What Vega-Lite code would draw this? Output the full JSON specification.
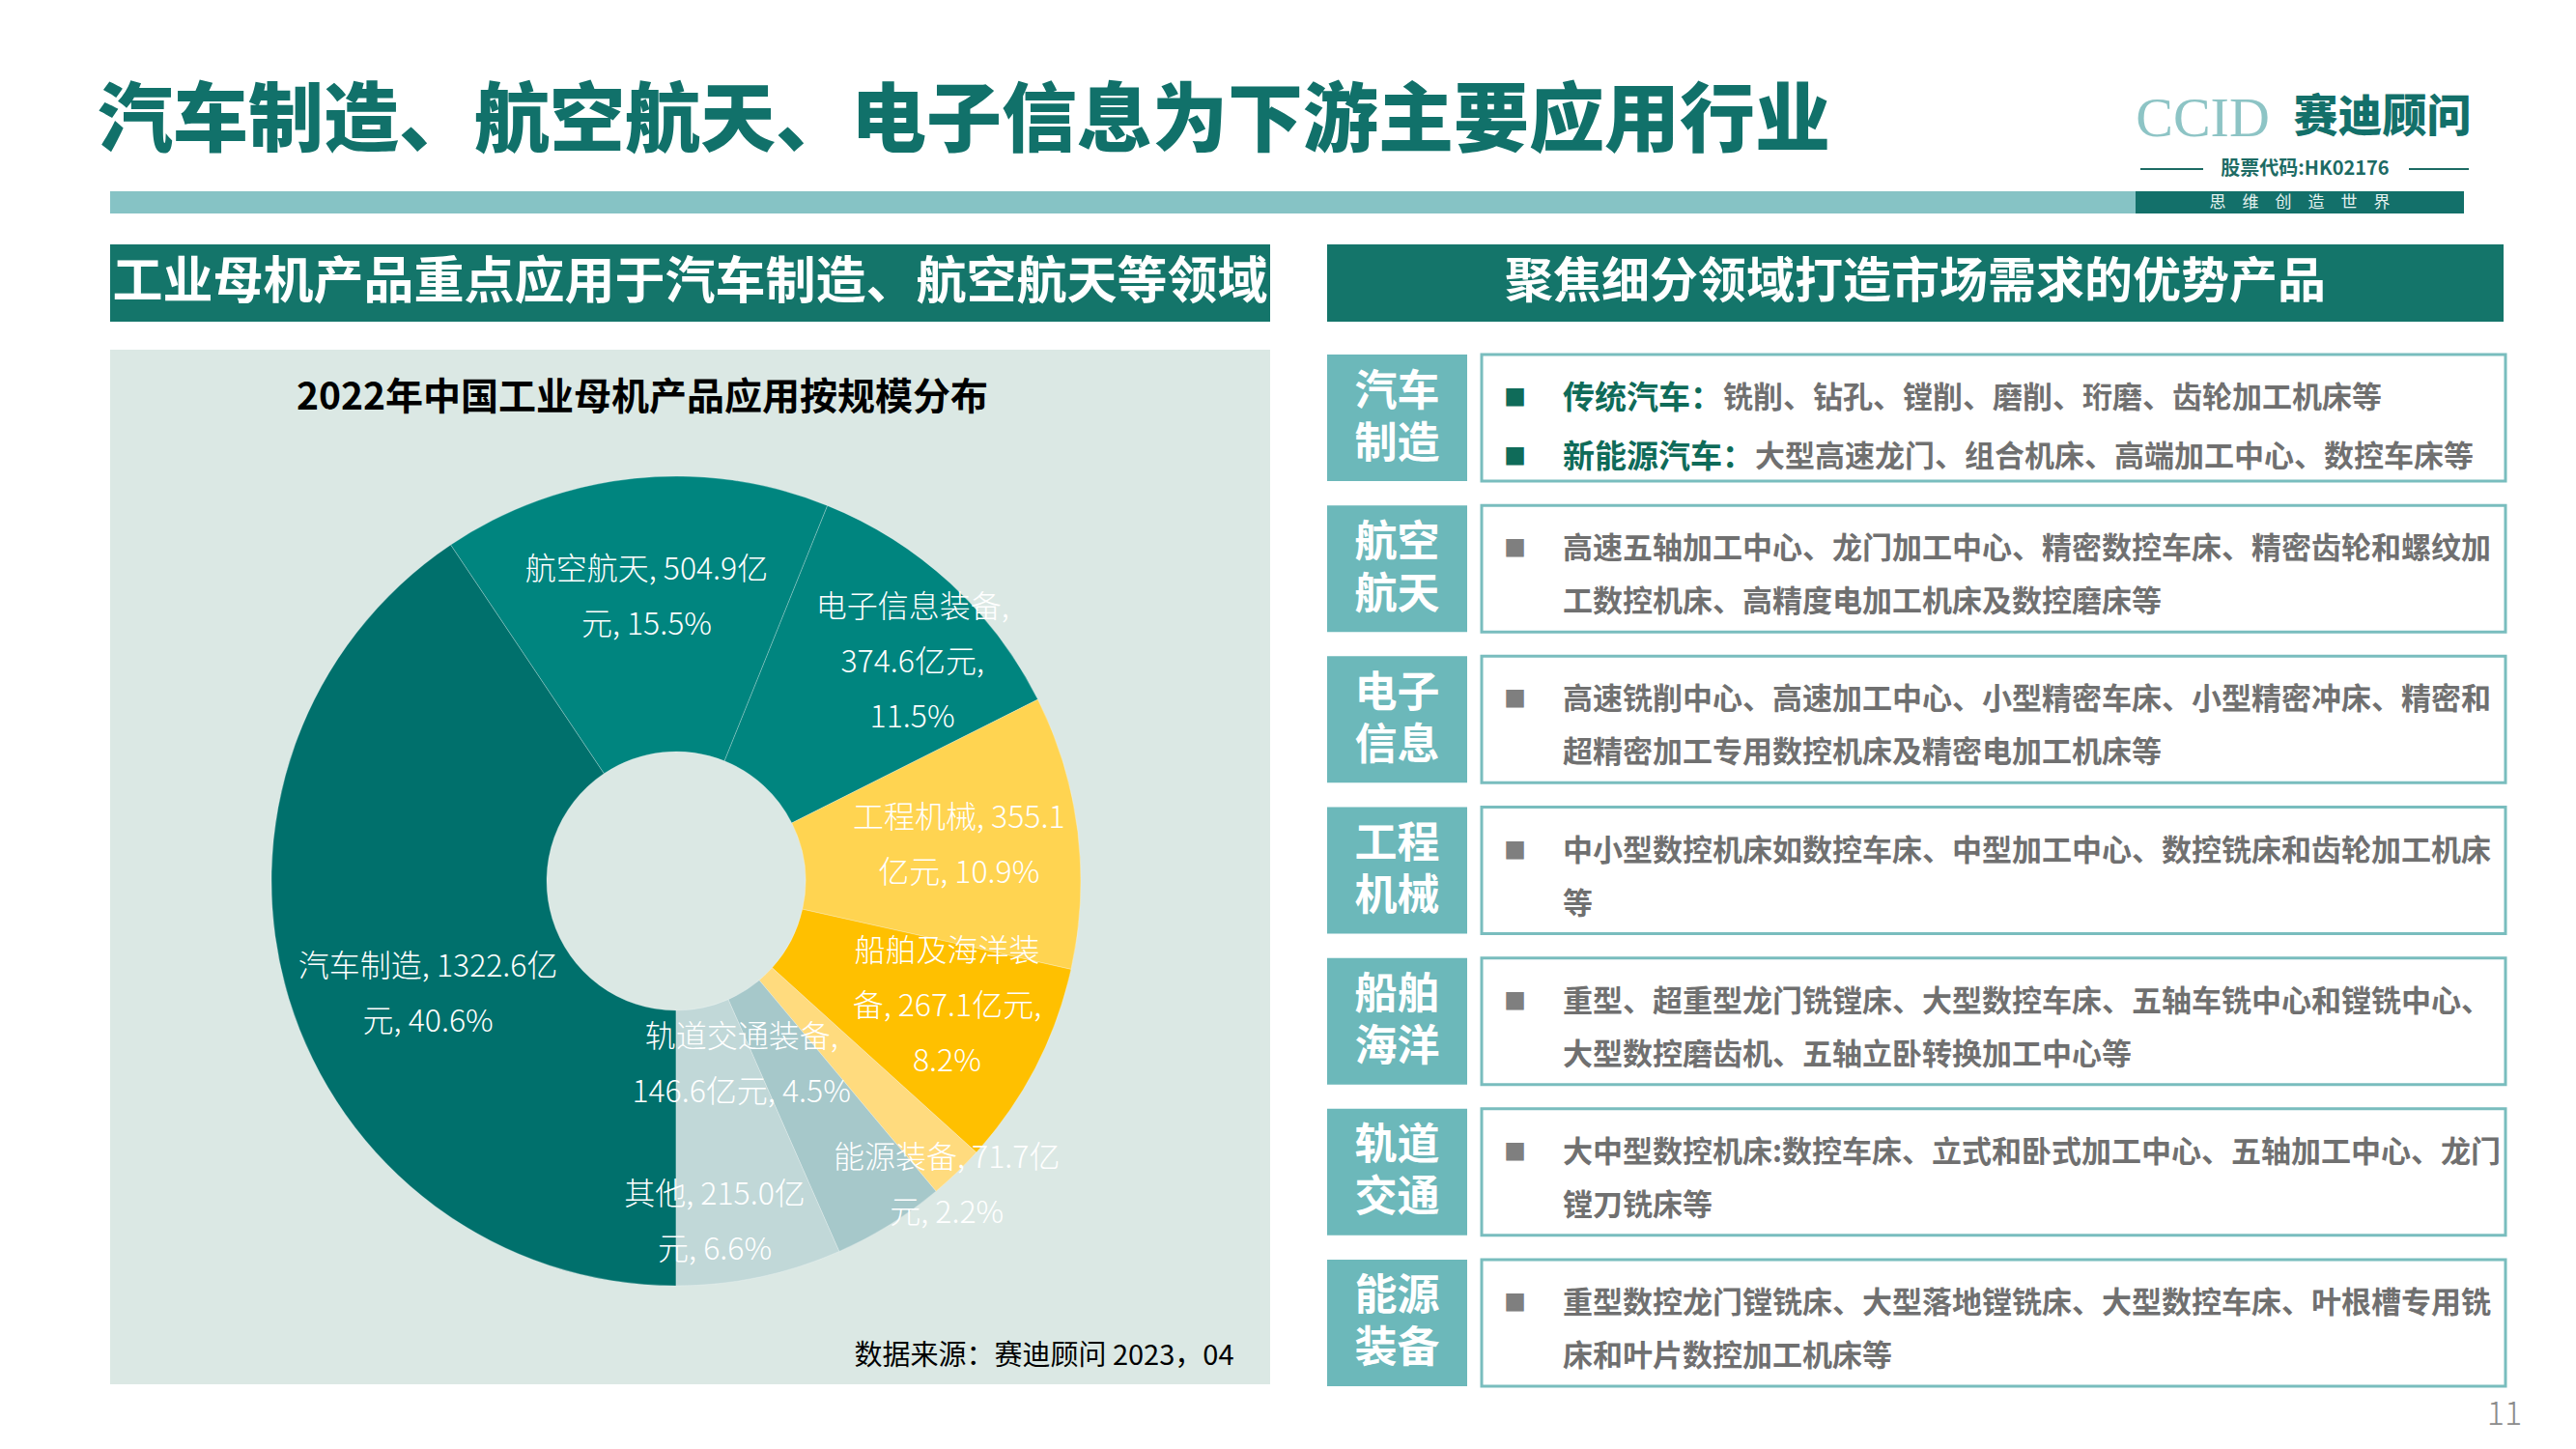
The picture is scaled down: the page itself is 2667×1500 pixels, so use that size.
{
  "$schema": "https://vega.github.io/schema/vega-lite/v6.json",
  "padding": {"left": 96, "top": 0, "right": 55, "bottom": 12},
  "background": "#ffffff",
  "spacing": 0,
  "config": {
    "font": "Noto Sans CJK SC",
    "view": {"stroke": null},
    "concat": {"spacing": 0}
  },
  "datasets": {
    "apps": [
      {"cat": "汽车制造", "value": 1322.6, "label": "汽车制造, 1322.6亿\n元, 40.6%"},
      {"cat": "航空航天", "value": 504.9, "label": "航空航天, 504.9亿\n元, 15.5%"},
      {"cat": "电子信息装备", "value": 374.6, "label": "电子信息装备,\n374.6亿元,\n11.5%"},
      {"cat": "工程机械", "value": 355.1, "label": "工程机械, 355.1\n亿元, 10.9%"},
      {"cat": "船舶及海洋装备", "value": 267.1, "label": "船舶及海洋装\n备, 267.1亿元,\n8.2%"},
      {"cat": "能源装备", "value": 71.7, "label": "能源装备, 71.7亿\n元, 2.2%"},
      {"cat": "轨道交通装备", "value": 146.6, "label": "轨道交通装备,\n146.6亿元, 4.5%"},
      {"cat": "其他", "value": 215.0, "label": "其他, 215.0亿\n元, 6.6%"}
    ],
    "rows": [
      {"cat": "汽车制造", "label": "汽车\n制造", "prefix": "传统汽车：\n新能源汽车：", "rest1": "铣削、钻孔、镗削、磨削、珩磨、齿轮加工机床等", "rest2": "大型高速龙门、组合机床、高端加工中心、数控车床等", "text": ""},
      {"cat": "航空航天", "label": "航空\n航天", "prefix": "", "rest1": "", "rest2": "", "text": "高速五轴加工中心、龙门加工中心、精密数控车床、精密齿轮和螺纹加\n工数控机床、高精度电加工机床及数控磨床等"},
      {"cat": "电子信息", "label": "电子\n信息", "prefix": "", "rest1": "", "rest2": "", "text": "高速铣削中心、高速加工中心、小型精密车床、小型精密冲床、精密和\n超精密加工专用数控机床及精密电加工机床等"},
      {"cat": "工程机械", "label": "工程\n机械", "prefix": "", "rest1": "", "rest2": "", "text": "中小型数控机床如数控车床、中型加工中心、数控铣床和齿轮加工机床\n等"},
      {"cat": "船舶海洋", "label": "船舶\n海洋", "prefix": "", "rest1": "", "rest2": "", "text": "重型、超重型龙门铣镗床、大型数控车床、五轴车铣中心和镗铣中心、\n大型数控磨齿机、五轴立卧转换加工中心等"},
      {"cat": "轨道交通", "label": "轨道\n交通", "prefix": "", "rest1": "", "rest2": "", "text": "大中型数控机床:数控车床、立式和卧式加工中心、五轴加工中心、龙门\n镗刀铣床等"},
      {"cat": "能源装备", "label": "能源\n装备", "prefix": "", "rest1": "", "rest2": "", "text": "重型数控龙门镗铣床、大型落地镗铣床、大型数控车床、叶根槽专用铣\n床和叶片数控加工机床等"}
    ]
  },
  "vconcat": [
    {
      "spacing": 0,
      "hconcat": [
        {"width": 1804, "height": 197, "data": {"values": [{"t": "汽车制造、航空航天、电子信息为下游主要应用行业"}]},
         "mark": {"type": "text", "fontSize": 78, "fontWeight": 900, "fill": "#11716a", "baseline": "middle", "align": "center", "dy": 29.5},
         "encoding": {"text": {"field": "t"}}},
        {"width": 311, "height": 197, "data": {"values": []}, "mark": "text"},
        {
          "spacing": 0,
          "vconcat": [
            {"width": 340, "height": 92, "data": {"values": []}, "mark": "text"},
            {
              "spacing": 0,
              "hconcat": [
                {"width": 129, "height": 60, "data": {"values": [{"t": "CCID"}]},
                 "mark": {"type": "text", "font": "Liberation Serif", "fontSize": 58, "fill": "#8dc4c5", "baseline": "middle", "align": "center", "dy": 2},
                 "encoding": {"text": {"field": "t"}}},
                {"width": 22, "height": 60, "data": {"values": []}, "mark": "text"},
                {"width": 189, "height": 60, "data": {"values": [{"t": "赛迪顾问"}]},
                 "mark": {"type": "text", "fontSize": 46, "fontWeight": 900, "fill": "#13706a", "baseline": "middle", "align": "center"},
                 "encoding": {"text": {"field": "t"}}}
              ]
            },
            {
              "spacing": 0,
              "hconcat": [
                {"spacing": 0, "vconcat": [
                  {"width": 65, "height": 21, "data": {"values": []}, "mark": "text"},
                  {"width": 65, "height": 2, "view": {"fill": "#1d6b64", "stroke": null}, "data": {"values": []}, "mark": "text"}
                ]},
                {"width": 17, "height": 45, "data": {"values": []}, "mark": "text"},
                {"width": 177, "height": 45, "data": {"values": [{"t": "股票代码:HK02176"}]},
                 "mark": {"type": "text", "fontSize": 20, "fontWeight": "bold", "fill": "#1d6b64", "baseline": "middle", "align": "center", "dy": -0.5},
                 "encoding": {"text": {"field": "t"}}},
                {"width": 19, "height": 45, "data": {"values": []}, "mark": "text"},
                {"spacing": 0, "vconcat": [
                  {"width": 62, "height": 21, "data": {"values": []}, "mark": "text"},
                  {"width": 62, "height": 2, "view": {"fill": "#1d6b64", "stroke": null}, "data": {"values": []}, "mark": "text"}
                ]}
              ]
            }
          ]
        }
      ]
    },
    {
      "spacing": 0,
      "hconcat": [
        {"width": 18, "height": 23, "data": {"values": []}, "mark": "text"},
        {"width": 2097, "height": 23, "view": {"fill": "#86c3c5", "stroke": null}, "data": {"values": []}, "mark": "text"},
        {"width": 340, "height": 23, "view": {"fill": "#13706a", "stroke": null}, "data": {"values": [{"t": "思　维　创　造　世　界"}]},
         "mark": {"type": "text", "fontSize": 17, "fill": "#e6f2f0", "baseline": "middle", "align": "center"},
         "encoding": {"text": {"field": "t"}}}
      ]
    },
    {"width": 100, "height": 32, "data": {"values": []}, "mark": "text"},
    {
      "spacing": 0,
      "hconcat": [
        {"width": 18, "height": 100, "data": {"values": []}, "mark": "text"},
        {
          "spacing": 0,
          "vconcat": [
            {"width": 1201, "height": 80, "view": {"fill": "#14756a", "stroke": null},
             "data": {"values": [{"t": "工业母机产品重点应用于汽车制造、航空航天等领域"}]},
             "mark": {"type": "text", "fontSize": 52, "fontWeight": "bold", "fill": "#ffffff", "baseline": "middle", "align": "center"},
             "encoding": {"text": {"field": "t"}}},
            {"width": 1201, "height": 29, "data": {"values": []}, "mark": "text"},
            {"width": 1201, "height": 100, "view": {"fill": "#dbe8e4", "stroke": null},
             "data": {"values": [{"t": "2022年中国工业母机产品应用按规模分布"}]},
             "mark": {"type": "text", "fontSize": 39, "fontWeight": "bold", "fill": "#000000", "baseline": "middle", "align": "center", "dx": -49.5},
             "encoding": {"text": {"field": "t"}}},
            {
              "spacing": 0,
              "hconcat": [
                {
                  "width": 1172, "height": 900,
                  "view": {"fill": "#dbe8e4", "stroke": null},
                  "data": {"name": "apps"},
                  "transform": [{"window": [{"op": "row_number", "as": "i"}]}],
                  "encoding": {
                    "theta": {"field": "value", "type": "quantitative", "stack": true, "scale": {"range": [3.14159265, 9.42477796]}},
                    "order": {"field": "i", "type": "quantitative"}
                  },
                  "layer": [
                    {"mark": {"type": "arc", "outerRadius": 419, "innerRadius": 134, "stroke": "#ffffff", "strokeOpacity": 0.25, "strokeWidth": 1},
                     "encoding": {"color": {"field": "cat", "type": "nominal", "legend": null,
                       "scale": {"domain": ["汽车制造", "航空航天", "电子信息装备", "工程机械", "船舶及海洋装备", "能源装备", "轨道交通装备", "其他"],
                                 "range": ["#00706c", "#00857f", "#00857f", "#ffd451", "#ffc000", "#ffdb7e", "#a6c8ca", "#c1d8d8"]}}}},
                    {"mark": {"type": "text", "radius": 295, "dy": -28.5, "fontSize": 32, "fontWeight": 300, "lineHeight": 57, "lineBreak": "\n", "fill": "#ffffff", "align": "center", "baseline": "middle"},
                     "encoding": {"text": {"condition": {"test": "datum.cat === '航空航天' || datum.cat === '工程机械'", "field": "label", "type": "nominal"}, "value": ""}}},
                    {"mark": {"type": "text", "radius": 333, "dx": 19, "dy": -38, "fontSize": 32, "fontWeight": 300, "lineHeight": 57, "lineBreak": "\n", "fill": "#ffffff", "align": "center", "baseline": "middle"},
                     "encoding": {"text": {"condition": {"test": "datum.cat === '电子信息装备'", "field": "label", "type": "nominal"}, "value": ""}}},
                    {"mark": {"type": "text", "radius": 309, "dx": 6, "dy": -69, "fontSize": 32, "fontWeight": 300, "lineHeight": 57, "lineBreak": "\n", "fill": "#ffffff", "align": "center", "baseline": "middle"},
                     "encoding": {"text": {"condition": {"test": "datum.cat === '船舶及海洋装备'", "field": "label", "type": "nominal"}, "value": ""}}},
                    {"mark": {"type": "text", "radius": 281, "dx": 12, "dy": 7.5, "fontSize": 32, "fontWeight": 300, "lineHeight": 57, "lineBreak": "\n", "fill": "#ffffff", "align": "center", "baseline": "middle"},
                     "encoding": {"text": {"condition": {"test": "datum.cat === '汽车制造'", "field": "label", "type": "nominal"}, "value": ""}}},
                    {"mark": {"type": "text", "radius": 380, "dx": 16.6, "dy": 12.9, "fontSize": 32, "fontWeight": 300, "lineHeight": 57, "lineBreak": "\n", "fill": "#ffffff", "align": "center", "baseline": "middle"},
                     "encoding": {"text": {"condition": {"test": "datum.cat === '能源装备'", "field": "label", "type": "nominal"}, "value": ""}}},
                    {"mark": {"type": "text", "radius": 202, "dx": -39, "dy": -9.5, "fontSize": 32, "fontWeight": 300, "lineHeight": 57, "lineBreak": "\n", "fill": "#ffffff", "align": "center", "baseline": "middle"},
                     "encoding": {"text": {"condition": {"test": "datum.cat === '轨道交通装备'", "field": "label", "type": "nominal"}, "value": ""}}},
                    {"mark": {"type": "text", "radius": 355, "dx": -33, "dy": -22.5, "fontSize": 32, "fontWeight": 300, "lineHeight": 57, "lineBreak": "\n", "fill": "#ffffff", "align": "center", "baseline": "middle"},
                     "encoding": {"text": {"condition": {"test": "datum.cat === '其他'", "field": "label", "type": "nominal"}, "value": ""}}}
                  ]
                },
                {"width": 29, "height": 900, "view": {"fill": "#dbe8e4", "stroke": null}, "data": {"values": []}, "mark": "text"}
              ]
            },
            {"width": 1201, "height": 71, "view": {"fill": "#dbe8e4", "stroke": null},
             "data": {"values": [{"t": "数据来源：赛迪顾问  2023，04"}]},
             "mark": {"type": "text", "fontSize": 29, "fill": "#000000", "baseline": "middle", "align": "right", "dx": 563, "dy": 6.5},
             "encoding": {"text": {"field": "t"}}}
          ]
        },
        {"width": 59, "height": 100, "data": {"values": []}, "mark": "text"},
        {
          "spacing": 0,
          "vconcat": [
            {"width": 1218, "height": 80, "view": {"fill": "#14756a", "stroke": null},
             "data": {"values": [{"t": "聚焦细分领域打造市场需求的优势产品"}]},
             "mark": {"type": "text", "fontSize": 50, "fontWeight": "bold", "fill": "#ffffff", "baseline": "middle", "align": "center"},
             "encoding": {"text": {"field": "t"}}},
            {"width": 1218, "height": 32, "data": {"values": []}, "mark": "text"},
            {
              "spacing": 0,
              "hconcat": [
                {
                  "width": 145, "height": 1068,
                  "data": {"name": "rows"},
                  "encoding": {"y": {"field": "cat", "type": "nominal", "sort": null, "axis": null, "scale": {"paddingInner": 0.161, "paddingOuter": 0}}},
                  "layer": [
                    {"mark": {"type": "rect", "fill": "#6cb8ba"},
                     "encoding": {"x": {"datum": 0, "type": "quantitative", "scale": {"domain": [0, 1]}, "axis": null}, "x2": {"datum": 1}}},
                    {"mark": {"type": "text", "fontSize": 44, "fontWeight": "bold", "fill": "#ffffff", "lineHeight": 54, "lineBreak": "\n", "align": "center", "baseline": "middle", "dy": -26},
                     "encoding": {"text": {"field": "label"}}}
                  ]
                },
                {"width": 13, "height": 100, "data": {"values": []}, "mark": "text"},
                {
                  "width": 1060, "height": 1068,
                  "data": {"name": "rows"},
                  "encoding": {"y": {"field": "cat", "type": "nominal", "sort": null, "axis": null, "scale": {"paddingInner": 0.161, "paddingOuter": 0}}},
                  "layer": [
                    {"mark": {"type": "rect", "fill": "#ffffff", "stroke": "#79bdbe", "strokeWidth": 3},
                     "encoding": {"x": {"datum": 0, "type": "quantitative", "scale": {"domain": [0, 1]}, "axis": null}, "x2": {"datum": 1}}},
                    {"transform": [{"filter": "datum.cat !== '汽车制造'"}],
                     "mark": {"type": "text", "text": "■", "x": 34.5, "dy": -19.5, "fontSize": 23, "fill": "#7f7f7f", "align": "center", "baseline": "middle"}},
                    {"transform": [{"filter": "datum.cat !== '汽车制造'"}],
                     "mark": {"type": "text", "x": 84, "dy": -19.5, "fontSize": 31, "fontWeight": "bold", "fill": "#707070", "lineHeight": 55, "lineBreak": "\n", "align": "left", "baseline": "middle"},
                     "encoding": {"text": {"field": "text"}}},
                    {"transform": [{"filter": "datum.cat === '汽车制造'"}],
                     "mark": {"type": "text", "text": "■\n■", "x": 34.5, "dy": -19.5, "fontSize": 23, "fill": "#0f6b59", "lineHeight": 61, "lineBreak": "\n", "align": "center", "baseline": "middle"}},
                    {"transform": [{"filter": "datum.cat === '汽车制造'"}],
                     "mark": {"type": "text", "x": 84, "dy": -19.5, "fontSize": 33, "fontWeight": "bold", "fill": "#0f6b59", "lineHeight": 61, "lineBreak": "\n", "align": "left", "baseline": "middle"},
                     "encoding": {"text": {"field": "prefix"}}},
                    {"transform": [{"filter": "datum.cat === '汽车制造'"}],
                     "mark": {"type": "text", "x": 250, "dy": -19.5, "fontSize": 31, "fontWeight": "bold", "fill": "#707070", "align": "left", "baseline": "middle"},
                     "encoding": {"text": {"field": "rest1"}}},
                    {"transform": [{"filter": "datum.cat === '汽车制造'"}],
                     "mark": {"type": "text", "x": 283, "dy": 41.5, "fontSize": 31, "fontWeight": "bold", "fill": "#707070", "align": "left", "baseline": "middle"},
                     "encoding": {"text": {"field": "rest2"}}}
                  ]
                }
              ]
            }
          ]
        }
      ]
    },
    {
      "spacing": 0,
      "hconcat": [
        {"width": 2478, "height": 56, "data": {"values": []}, "mark": "text"},
        {"width": 38, "height": 56, "data": {"values": [{"t": "11"}]},
         "mark": {"type": "text", "fontSize": 34, "fontWeight": 300, "fill": "#8c8c8c", "baseline": "middle", "align": "center"},
         "encoding": {"text": {"field": "t"}}}
      ]
    }
  ]
}
